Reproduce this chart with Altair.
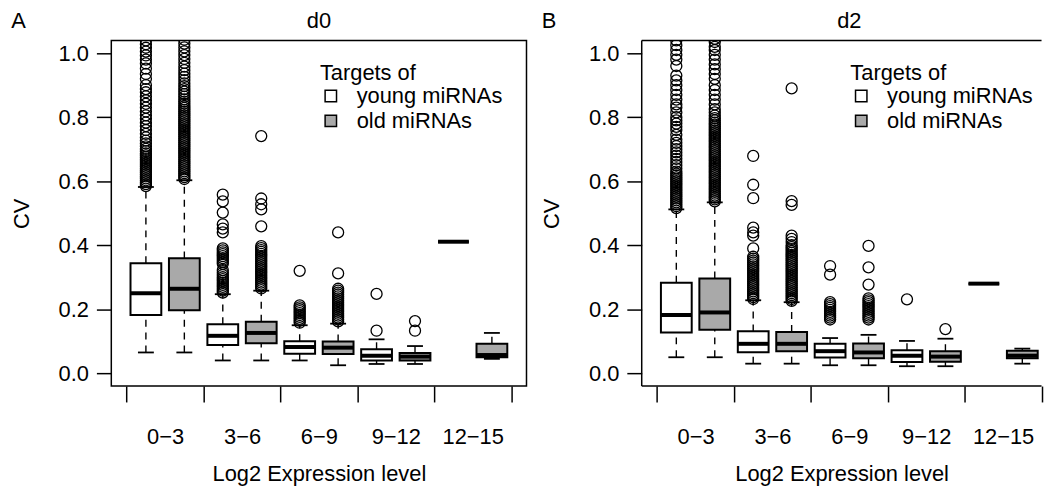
import altair as alt
import pandas as pd

FONT = "Liberation Sans"

groups = ["0−3", "3−6", "6−9", "9−12", "12−15"]
series = ["young miRNAs", "old miRNAs"]
positions = [1, 2, 3, 4, 5, 6, 7, 8, 9, 10]
tick_values = [0.5, 1.5, 2.5, 3.5, 4.5, 5.5, 6.5, 7.5, 8.5, 9.5, 10.5]
label_positions = [1.5, 3.5, 5.5, 7.5, 9.5]
y_ticks = [0.0, 0.2, 0.4, 0.6, 0.8, 1.0]

# ---- d0 box statistics (young, old per expression bin) ----
d0_lo = [0.065, 0.065, 0.040, 0.040, 0.040, 0.025, 0.029, 0.029, 0.411, 0.045]
d0_q1 = [0.182, 0.197, 0.088, 0.094, 0.061, 0.060, 0.040, 0.040, 0.411, 0.050]
d0_med = [0.250, 0.264, 0.117, 0.126, 0.082, 0.080, 0.055, 0.052, 0.411, 0.057]
d0_q3 = [0.344, 0.359, 0.153, 0.161, 0.100, 0.099, 0.075, 0.063, 0.411, 0.092]
d0_hi = [0.582, 0.603, 0.247, 0.258, 0.150, 0.155, 0.106, 0.085, 0.411, 0.126]
d0_out = [
    [0.585, 0.591, 0.597, 0.603, 0.609, 0.615, 0.621, 0.627, 0.633, 0.639, 0.645,
     0.651, 0.657, 0.663, 0.669, 0.675, 0.681, 0.687, 0.694, 0.701, 0.709, 0.718,
     0.727, 0.737, 0.748, 0.760, 0.772, 0.783, 0.795, 0.806, 0.818, 0.830, 0.842,
     0.853, 0.865, 0.878, 0.888, 0.900, 0.920, 0.935, 0.952, 0.968, 0.980, 0.993,
     1.005, 1.017, 1.028, 1.040],
    [0.607, 0.613, 0.619, 0.625, 0.631, 0.637, 0.643, 0.649, 0.655, 0.661, 0.667,
     0.673, 0.679, 0.685, 0.691, 0.697, 0.703, 0.709, 0.715, 0.721, 0.727, 0.733,
     0.739, 0.745, 0.751, 0.757, 0.763, 0.769, 0.775, 0.781, 0.787, 0.793, 0.799,
     0.805, 0.811, 0.817, 0.823, 0.829, 0.835, 0.842, 0.849, 0.856, 0.864, 0.872,
     0.880, 0.888, 0.897, 0.906, 0.916, 0.926, 0.936, 0.947, 0.958, 0.970, 0.982,
     0.994, 1.006, 1.018, 1.030, 1.042],
    [0.252, 0.258, 0.264, 0.270, 0.276, 0.282, 0.288, 0.294, 0.300, 0.307, 0.314,
     0.322, 0.342, 0.348, 0.354, 0.360, 0.366, 0.372, 0.378, 0.384, 0.390, 0.440,
     0.452, 0.465, 0.502, 0.537, 0.558],
    [0.265, 0.271, 0.277, 0.283, 0.289, 0.295, 0.301, 0.307, 0.313, 0.319, 0.325,
     0.331, 0.337, 0.343, 0.349, 0.355, 0.361, 0.367, 0.373, 0.379, 0.385, 0.391,
     0.397, 0.459, 0.512, 0.528, 0.546, 0.741],
    [0.158, 0.164, 0.170, 0.176, 0.182, 0.188, 0.194, 0.200, 0.206, 0.212, 0.320],
    [0.162, 0.168, 0.174, 0.180, 0.186, 0.192, 0.198, 0.204, 0.210, 0.216, 0.222,
     0.228, 0.234, 0.240, 0.246, 0.252, 0.258, 0.264, 0.312, 0.440],
    [0.133, 0.248],
    [0.133, 0.163],
    [],
    [],
]

# ---- d2 box statistics ----
d2_lo = [0.050, 0.050, 0.030, 0.030, 0.025, 0.025, 0.022, 0.022, 0.280, 0.030]
d2_q1 = [0.127, 0.136, 0.066, 0.069, 0.049, 0.047, 0.035, 0.036, 0.280, 0.047]
d2_med = [0.182, 0.190, 0.092, 0.092, 0.069, 0.065, 0.055, 0.052, 0.280, 0.055]
d2_q3 = [0.283, 0.296, 0.131, 0.129, 0.092, 0.093, 0.072, 0.069, 0.280, 0.070]
d2_hi = [0.512, 0.534, 0.228, 0.222, 0.110, 0.120, 0.101, 0.108, 0.280, 0.077]
d2_out = [
    [0.516, 0.522, 0.528, 0.534, 0.540, 0.546, 0.552, 0.558, 0.564, 0.570, 0.576,
     0.582, 0.588, 0.594, 0.600, 0.606, 0.612, 0.618, 0.624, 0.630, 0.640, 0.650,
     0.660, 0.670, 0.680, 0.690, 0.700, 0.710, 0.720, 0.730, 0.745, 0.760, 0.770,
     0.780, 0.790, 0.800, 0.815, 0.830, 0.840, 0.855, 0.870, 0.885, 0.900, 0.915,
     0.930, 0.960, 0.980, 0.995, 1.010, 1.025, 1.040],
    [0.537, 0.543, 0.549, 0.555, 0.561, 0.567, 0.573, 0.579, 0.585, 0.591, 0.597,
     0.603, 0.609, 0.615, 0.621, 0.627, 0.633, 0.639, 0.645, 0.651, 0.657, 0.663,
     0.669, 0.675, 0.681, 0.687, 0.693, 0.699, 0.705, 0.711, 0.717, 0.723, 0.729,
     0.735, 0.741, 0.747, 0.753, 0.759, 0.765, 0.771, 0.777, 0.783, 0.790, 0.797,
     0.805, 0.815, 0.825, 0.840, 0.855, 0.870, 0.885, 0.900, 0.920, 0.935, 0.950,
     0.965, 0.980, 0.995, 1.010, 1.020, 1.035, 1.045],
    [0.232, 0.238, 0.244, 0.250, 0.256, 0.262, 0.268, 0.274, 0.280, 0.286, 0.292,
     0.298, 0.304, 0.310, 0.316, 0.322, 0.328, 0.334, 0.340, 0.346, 0.352, 0.358,
     0.364, 0.390, 0.430, 0.440, 0.455, 0.547, 0.589, 0.679],
    [0.226, 0.232, 0.238, 0.244, 0.250, 0.256, 0.262, 0.268, 0.274, 0.280, 0.286,
     0.292, 0.298, 0.304, 0.310, 0.316, 0.322, 0.328, 0.334, 0.340, 0.346, 0.352,
     0.358, 0.364, 0.370, 0.376, 0.382, 0.388, 0.394, 0.400, 0.410, 0.420, 0.430,
     0.526, 0.538, 0.890],
    [0.168, 0.174, 0.180, 0.186, 0.192, 0.198, 0.204, 0.210, 0.216, 0.222, 0.308,
     0.335],
    [0.168, 0.174, 0.180, 0.186, 0.192, 0.198, 0.204, 0.210, 0.216, 0.222, 0.228,
     0.234, 0.277, 0.331, 0.398],
    [0.231],
    [0.138],
    [],
    [],
]

panel_letters = ["A", "B"]
panel_titles = ["d0", "d2"]

H = 348
X_MIN, X_MAX = 0.1, 10.9
PX_PER_UNIT = 418 / (X_MAX - X_MIN)

label_expr = " : ".join(
    f"datum.value == {p} ? '{g}'" for p, g in zip(label_positions, groups)
) + " : ''"

y_scale = alt.Scale(domain=[-0.04, 1.04], nice=False, zero=False, padding=0)

x_axis = alt.Axis(
    values=tick_values,
    labelExpr=label_expr,
    tickOpacity={"condition": {"test": "(datum.value - 0.5) % 2 == 0", "value": 1}, "value": 0},
    tickSize=16,
    labelPadding=25,
    labelOverlap=False,
    labelFlush=False,
    labelBound=False,
    title="Log2 Expression level",
    titlePadding=16,
)
y_axis = alt.Axis(
    values=y_ticks,
    format=".1f",
    tickSize=15,
    labelPadding=8,
    labelFlush=False,
    labelOverlap=False,
    title="CV",
    titlePadding=25,
)


def make_panel(lo, q1, med, q3, hi, outs, letter, title, x_max, full_frame):
    W = (x_max - X_MIN) * PX_PER_UNIT
    x_scale = alt.Scale(domain=[X_MIN, x_max], nice=False, zero=False, padding=0)
    box = pd.DataFrame({
        "pos": positions,
        "series": series * 5,
        "lo": lo, "q1": q1, "med": med, "q3": q3, "hi": hi,
    })
    out_pos, out_val = [], []
    for p, vals in zip(positions, outs):
        for v in vals:
            out_pos.append(p)
            out_val.append(v)
    out = pd.DataFrame({"pos": out_pos, "value": out_val})

    X = alt.X("pos:Q", scale=x_scale, axis=x_axis)

    def Y(f):
        return alt.Y(f"{f}:Q", scale=y_scale, axis=y_axis)

    base = alt.Chart(box)
    upper = base.mark_rule(color="black", strokeWidth=1.4, strokeDash=[7, 6]).encode(
        x=X, y=Y("q3"), y2="hi")
    lower = base.mark_rule(color="black", strokeWidth=1.4, strokeDash=[7, 6]).encode(
        x=X, y=Y("lo"), y2="q1")
    cap_hi = base.mark_tick(orient="horizontal", size=16, thickness=1.8,
                            color="black", opacity=1).encode(x=X, y=Y("hi"))
    cap_lo = base.mark_tick(orient="horizontal", size=16, thickness=1.8,
                            color="black", opacity=1).encode(x=X, y=Y("lo"))
    bars = base.mark_bar(size=31, stroke="black", strokeWidth=2, opacity=1).encode(
        x=X, y=Y("q1"), y2="q3",
        fill=alt.Fill(
            "series:N",
            scale=alt.Scale(domain=series, range=["white", "#a9a9a9"]),
            legend=alt.Legend(
                title="Targets of",
                orient="none",
                legendX=210,
                legendY=23,
                direction="vertical",
                symbolType="square",
                symbolSize=132,
                symbolStrokeColor="black",
                symbolStrokeWidth=1.5,
                symbolOpacity=1,
                labelOffset=15,
                rowPadding=3,
                titlePadding=0,
                padding=0,
                titleFontSize=22,
                titleFontWeight="normal",
                titleFont=FONT,
                titleColor="black",
                labelFontSize=22,
                labelFont=FONT,
                labelColor="black",
            ),
        ),
    )
    meds = base.mark_tick(orient="horizontal", size=31, thickness=4,
                          color="black", opacity=1).encode(x=X, y=Y("med"))
    pts = alt.Chart(out).mark_point(shape="circle", filled=False, size=123,
                                    strokeWidth=1.3, color="black", opacity=1,
                                    clip=True).encode(x=X, y=alt.Y("value:Q", scale=y_scale, axis=y_axis))
    lab = alt.Chart(pd.DataFrame({"t": [letter]})).mark_text(
        align="left", baseline="alphabetic", fontSize=22, font=FONT, color="black"
    ).encode(text="t:N", x=alt.value(-100.7), y=alt.value(-12))
    ttl = alt.Chart(pd.DataFrame({"t": [title]})).mark_text(
        align="center", baseline="alphabetic", fontSize=22, font=FONT, color="black"
    ).encode(text="t:N", x=alt.value(418 / 2), y=alt.value(-12))

    layers = [upper, lower, cap_hi, cap_lo, bars, meds, pts, lab, ttl]
    if not full_frame:
        frame = alt.Chart(pd.DataFrame({"k": [0]}))
        layers += [
            frame.mark_rule(color="black", strokeWidth=1.5).encode(
                x=alt.value(0), x2=alt.value(W), y=alt.value(0)),
            frame.mark_rule(color="black", strokeWidth=1.5).encode(
                x=alt.value(0), x2=alt.value(W), y=alt.value(H)),
            frame.mark_rule(color="black", strokeWidth=1.5).encode(
                x=alt.value(0), y=alt.value(0), y2=alt.value(H)),
        ]
    ch = alt.layer(*layers).properties(width=W, height=H)
    if not full_frame:
        ch = ch.properties(view=alt.ViewBackground(stroke="transparent"))
    return ch


pA = make_panel(d0_lo, d0_q1, d0_med, d0_q3, d0_hi, d0_out,
                panel_letters[0], panel_titles[0], X_MAX, True)
# the right part of panel B falls outside the picture in the reference
pB = make_panel(d2_lo, d2_q1, d2_med, d2_q3, d2_hi, d2_out,
                panel_letters[1], panel_titles[1], 10.5, False)

chart = (
    alt.hconcat(pA, pB, spacing=12)
    .resolve_scale(fill="independent", x="independent")
    .resolve_legend(fill="independent")
    .properties(padding={"left": 1, "top": 0, "right": 0, "bottom": 0}, background="white")
    .configure(font=FONT)
    .configure_view(stroke="black", strokeWidth=1.5)
    .configure_axis(
        labelFont=FONT, labelFontSize=22, labelColor="black",
        titleFont=FONT, titleFontSize=22, titleFontWeight="normal", titleColor="black",
        tickColor="black", tickWidth=1.5, domain=False, grid=False,
    )
)

chart.save("out.html", embed_options={"renderer": "svg", "actions": False})
